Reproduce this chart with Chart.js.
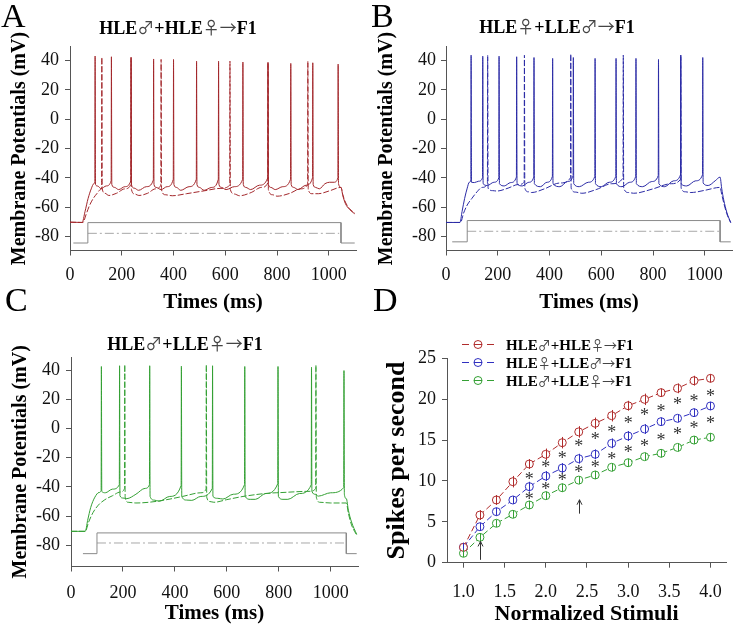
<!DOCTYPE html>
<html>
<head>
<meta charset="utf-8">
<script src="https://cdn.jsdelivr.net/npm/chart.js@4.4.0/dist/chart.umd.min.js"></script>
<style>
  html, body { margin: 0; padding: 0; background: #fff; }
  #wrap { position: relative; width: 736px; height: 629px; overflow: hidden; background: #fff; }
  canvas { position: absolute; }
</style>
</head>
<body>
<div id="wrap">
  <canvas id="chartA" width="368" height="320" style="left:0;top:0"></canvas>
  <canvas id="chartB" width="368" height="320" style="left:368px;top:0"></canvas>
  <canvas id="chartC" width="368" height="349" style="left:0;top:280px"></canvas>
  <canvas id="chartD" width="368" height="349" style="left:368px;top:280px"></canvas>
</div>
<script>
const SERIF = "'Liberation Serif', 'Times New Roman', serif";
const SYMBOL = "'Noto Sans CJK JP', 'DejaVu Sans', sans-serif";

// tick values
const msTicks = [0, 200, 400, 600, 800, 1000];
const mvTicks = [-80, -60, -40, -20, 0, 20, 40];
const stimTicks = [1.0, 1.5, 2.0, 2.5, 3.0, 3.5, 4.0];
const rateTicks = [0, 5, 10, 15, 20, 25];

// panel A: [ms, mV]
const traceASolid = [[0,-70.2],[47,-70.4],[58,-63],[70,-54],[82,-47.5],[92,-44],[96,-42.5],[97,43],[98.5,-44.5],[107,-45.6],[120,-47.4],[140,-45.5],[159,-42],[160,42.5],[161.5,-44.5],[172,-46.5],[188,-48],[212,-46],[235,-42],[236,42],[237.5,-44.5],[248,-47],[265,-48.5],[295,-46],[322,-41.5],[323,41],[324.5,-44.5],[333,-46.5],[352,-48],[375,-46],[399,-41],[400,40.7],[401.5,-44.5],[411,-46.5],[428,-48.5],[460,-46],[488,-41],[489,39.5],[490.5,-44.5],[500,-46.5],[518,-48.5],[548,-46.5],[573,-41],[574,39.5],[575.5,-44.5],[585,-46.5],[603,-48],[635,-46],[667,-41],[668,38.9],[669.5,-44.5],[679,-46.5],[698,-48],[732,-45],[764,-40],[765,38.6],[766.5,-44.5],[776,-46.5],[793,-48],[822,-46],[852,-41],[853,38],[854.5,-44.5],[864,-46.5],[881,-48],[912,-45],[937,-40],[938,38.4],[939.5,-44.5],[949,-46.5],[963,-47.5],[985,-44],[1003,-43],[1020,-43],[1035,-40],[1036,37.5],[1037.5,-44],[1047,-46.5],[1054,-52],[1064,-57.5],[1080,-61.5],[1100,-64.5]];
const traceADashed = [[0,-70.2],[50,-70.4],[62,-65],[75,-59],[90,-54],[105,-50.5],[118,-48],[122,-46.5],[123,42],[124.5,-47.5],[135,-50.5],[150,-52],[180,-50.5],[212,-47.5],[235,-44.5],[236,42],[237.5,-48],[250,-51],[266,-52],[300,-50.5],[330,-47.5],[351,-45],[352,40.7],[353.5,-48],[368,-51.5],[395,-52.2],[450,-50.8],[520,-48.8],[580,-47.2],[617,-45],[618,39.5],[619.5,-48],[635,-51],[655,-52.2],[700,-50],[740,-46.5],[764,-43.5],[765,38.6],[766.5,-48],[782,-51.5],[800,-52.5],[850,-50.5],[890,-47.5],[918,-44.5],[919,39.5],[920.5,-48],[935,-50.8],[960,-50.8],[1000,-49],[1047,-46.5],[1054,-51.5],[1064,-56.5],[1080,-61],[1100,-64]];
const stimA = [[13,-84.4],[69,-84.4],[69,-70.5],[1047,-70.5],[1047,-84.4],[1100,-84.4]];
const stimADash = [[69,-77.8],[1040,-77.8]];

// panel B
const traceBSolid = [[0,-70.4],[54,-70.4],[62,-63],[72,-54],[82,-47],[90,-43],[96,-41.5],[97,43.6],[98.5,-43],[110,-43.2],[126,-42.3],[141,-40],[142,42.9],[143.5,-44],[160,-45.2],[185,-43],[204,-40],[205,42.9],[206.5,-44],[225,-45.5],[250,-43.2],[272,-39.5],[273,42.5],[274.5,-44],[295,-45.5],[320,-43],[339,-39.5],[340,42],[341.5,-44],[365,-46],[390,-43],[411,-39],[412,41.4],[413.5,-44],[440,-46],[470,-42.5],[491,-38.5],[492,42],[493.5,-44],[515,-46],[550,-43],[575,-39],[576,41.4],[577.5,-44],[600,-46],[630,-43],[656,-39],[657,41.4],[658.5,-44],[680,-46],[710,-43],[733,-39],[734,41.4],[735.5,-44],[760,-46],[795,-42.5],[820,-38.5],[821,40.7],[822.5,-44],[845,-46],[880,-42],[906,-38],[907,43.6],[908.5,-44],[930,-45.5],[965,-42],[991,-38],[992,42],[993.5,-43.5],[1013,-45.2],[1040,-42],[1059,-39.5],[1065,-47],[1073,-55],[1085,-63.5],[1100,-70.5]];
const traceBDashed = [[0,-70.4],[56,-70.4],[68,-64],[82,-58.5],[100,-54],[120,-49.5],[140,-46.5],[160,-44],[161,43.6],[162.5,-47],[180,-48.7],[196,-49],[240,-47],[280,-44.5],[302,-43],[303,43.6],[304.5,-47],[318,-49.5],[331,-50],[380,-47.5],[440,-43.5],[481,-40],[482,44.3],[483.5,-47],[500,-49.7],[525,-50.5],[580,-48],[640,-44],[684,-40],[685,43.6],[686.5,-47],[705,-50],[725,-50.5],[800,-47.5],[870,-44],[906,-41],[907,43.6],[908.5,-47],[925,-49.5],[946,-50],[1000,-48.5],[1059,-46.5],[1065,-51],[1073,-57],[1085,-64.5],[1100,-70.5]];
const stimB = [[24,-83.6],[82,-83.6],[82,-69.1],[1059,-69.1],[1059,-83.6],[1100,-83.6]];
const stimBDash = [[82,-76.4],[1055,-76.4]];

// panel C
const traceCSolid = [[0,-70.4],[55,-70.4],[64,-63],[76,-54],[92,-47],[108,-43.8],[116,-42.5],[117,42.5],[118.5,-43],[132,-44],[160,-41.5],[186,-38.5],[187,43],[188.5,-46],[200,-47.6],[215,-48],[250,-45],[285,-41],[302,-38.5],[303,43],[304.5,-46.5],[320,-49],[340,-49.8],[380,-46.5],[424,-39],[425,42.7],[426.5,-46.5],[445,-49],[465,-49.2],[500,-46.5],[544,-41],[545,43],[546.5,-46.5],[565,-47.8],[585,-48.3],[625,-45],[668,-38.5],[669,42.5],[670.5,-46.5],[690,-48.5],[710,-48.5],[750,-44.5],[796,-37.8],[797,42.5],[798.5,-46.5],[816,-48.5],[835,-48.5],[880,-44.5],[925,-38.5],[926,42],[927.5,-43],[940,-45],[952,-46.3],[1000,-44],[1050,-40.5],[1051,39.7],[1052.5,-45],[1060,-48],[1068,-56],[1080,-64],[1100,-72.5]];
const traceCDashed = [[0,-70.4],[55,-70.4],[68,-64],[85,-57.5],[105,-52.5],[130,-48.8],[160,-46],[190,-43.5],[206,-41],[207,43.6],[208.5,-47],[220,-50.5],[250,-51],[300,-50.5],[360,-49],[430,-46.5],[500,-44],[520,-41.5],[521,43.6],[522.5,-47],[535,-50],[550,-50.5],[600,-48.7],[670,-46.3],[790,-44],[920,-43],[942,-41],[943,43.4],[944.5,-47],[958,-50.5],[1000,-51],[1060,-51],[1068,-58],[1080,-66],[1100,-73]];
const stimC = [[46,-85.7],[100,-85.7],[100,-71.5],[1060,-71.5],[1060,-85.7],[1100,-85.7]];
const stimCDash = [[100,-78.4],[1058,-78.4]];

// panel D
const seriesNames = ["HLE♂+HLE♀→F1", "HLE♀+LLE♂→F1", "HLE♂+LLE♀→F1"];
const stimuli = [1.0, 1.2, 1.4, 1.6, 1.8, 2.0, 2.2, 2.4, 2.6, 2.8, 3.0, 3.2, 3.4, 3.6, 3.8, 4.0];
const redMean = [1.88, 5.83, 7.67, 9.91, 12.07, 13.26, 14.68, 16.0, 17.05, 17.98, 19.2, 19.98, 20.8, 21.33, 22.26, 22.55];
const blueMean = [1.9, 4.4, 6.24, 7.67, 9.3, 10.6, 11.58, 12.72, 13.26, 14.6, 15.5, 16.35, 17.25, 17.66, 18.35, 19.17];
const greenMean = [1.15, 3.1, 4.82, 5.92, 7.06, 8.2, 9.17, 10.1, 10.73, 11.67, 12.23, 12.97, 13.38, 14.1, 15.0, 15.34];
const redErr = [0.5, 0.6, 0.6, 0.7, 0.6, 0.7, 0.7, 0.7, 0.7, 0.7, 0.6, 0.7, 0.5, 0.6, 0.6, 0.5];
const blueErr = [0.5, 0.5, 0.5, 0.5, 0.6, 0.6, 0.6, 0.6, 0.6, 0.6, 0.6, 0.6, 0.5, 0.5, 0.5, 0.5];
const greenErr = [0.45, 0.5, 0.45, 0.45, 0.5, 0.5, 0.5, 0.5, 0.5, 0.5, 0.5, 0.5, 0.5, 0.5, 0.5, 0.5];
const starX = [1.8, 1.8, 2.0, 2.0, 2.2, 2.2, 2.4, 2.4, 2.6, 2.6, 2.8, 2.8, 3.0, 3.0, 3.2, 3.2, 3.4, 3.4, 3.6, 3.6, 3.8, 3.8, 4.0, 4.0];
const starY = [10.6, 8.07, 11.95, 9.3, 13.17, 10.4, 14.52, 11.34, 15.4, 11.95, 16.3, 13.05, 17.45, 13.87, 18.35, 14.6, 18.88, 15.34, 19.7, 16.0, 20.1, 16.72, 20.72, 17.37];
const arrowX = [1.2, 2.4];
const arrowTip = [2.6, 7.7];
const arrowTail = [0.35, 6.0];

const toXY = arr => arr.map(p => ({ x: p[0], y: p[1] }));

// draws text where ♂ ♀ → come from a wider symbol font
function drawMixed(ctx, text, x, y, size, symSize, align) {
  const runs = [];
  for (const ch of text) {
    const sym = "♂♀→".includes(ch);
    const last = runs[runs.length - 1];
    if (last && last.sym === sym) last.t += ch;
    else runs.push({ t: ch, sym });
  }
  const fontOf = r => r.sym ? symSize + "px " + SYMBOL : "bold " + size + "px " + SERIF;
  let total = 0;
  runs.forEach(r => { ctx.font = fontOf(r); r.w = ctx.measureText(r.t).width; total += r.w; });
  let cx = align === "center" ? x - total / 2 : x;
  ctx.textAlign = "left";
  ctx.textBaseline = "alphabetic";
  runs.forEach(r => {
    ctx.font = fontOf(r);
    ctx.fillStyle = r.sym ? "#444" : "#000";
    ctx.fillText(r.t, cx, y);
    cx += r.w;
  });
}

const panelText = {
  id: "panelText",
  afterDraw(chart, args, opts) {
    const ctx = chart.ctx;
    ctx.save();
    ctx.fillStyle = "#000";
    ctx.font = "34px " + SERIF;
    ctx.textAlign = "left";
    ctx.textBaseline = "alphabetic";
    ctx.fillText(opts.letter, opts.letterX, opts.letterY);
    if (opts.title) drawMixed(ctx, opts.title, opts.titleX, opts.titleY + 6.5, 18, 17, "center");
    ctx.restore();
  }
};

function axisStyle() {
  return {
    grid: { drawOnChartArea: false, drawTicks: true, tickLength: 5, color: "#555" },
    border: { color: "#555", width: 1 }
  };
}

function tracePanel(id, cfg) {
  return new Chart(document.getElementById(id), {
    type: "line",
    data: {
      datasets: [
        { data: toXY(cfg.stim), borderColor: "#8a8a8a", borderWidth: 1, pointRadius: 0 },
        { data: toXY(cfg.stimDash), borderColor: "#a8a8a8", borderWidth: 1, borderDash: [9, 3, 2, 3], pointRadius: 0 },
        { data: toXY(cfg.dashed), borderColor: cfg.color, borderWidth: 1, borderDash: [6, 2], pointRadius: 0, cubicInterpolationMode: "monotone" },
        { data: toXY(cfg.solid), borderColor: cfg.color, borderWidth: 1, pointRadius: 0, cubicInterpolationMode: "monotone" }
      ]
    },
    options: {
      responsive: false,
      animation: false,
      events: [],
      layout: { padding: { top: cfg.top, right: cfg.right, left: 0, bottom: 0 } },
      plugins: {
        legend: { display: false },
        tooltip: { enabled: false },
        panelText: cfg.text
      },
      scales: {
        x: {
          type: "linear", min: 0, max: 1105,
          ...axisStyle(),
          afterBuildTicks: s => { s.ticks = msTicks.map(v => ({ value: v })); },
          afterFit: s => { s.height = cfg.xh; },
          ticks: { color: "#111", padding: cfg.xtp, font: { family: SERIF, size: 18 }, callback: v => String(v), maxRotation: 0 },
          title: { display: true, text: "Times (ms)", color: "#000", font: { family: SERIF, size: 21, weight: "bold" }, padding: { top: 0, bottom: cfg.xtb } }
        },
        y: {
          type: "linear", min: cfg.ymin, max: cfg.ymax,
          ...axisStyle(),
          afterBuildTicks: s => { s.ticks = mvTicks.map(v => ({ value: v })); },
          afterFit: s => { s.width = cfg.yw; },
          ticks: { color: "#111", padding: cfg.ytp, font: { family: SERIF, size: 18 }, callback: v => String(v) },
          title: { display: true, text: "Membrane Potentials (mV)", color: "#000", font: { family: SERIF, size: 20, weight: "bold" }, padding: { top: cfg.ytt, bottom: 0 } }
        }
      }
    },
    plugins: [panelText]
  });
}

tracePanel("chartA", {
  solid: traceASolid, dashed: traceADashed, stim: stimA, stimDash: stimADash, color: "#a3282c",
  top: 46.5, right: 12, xh: 69.5, yw: 70, ymin: -89.5, ymax: 49.5, xtp: 9, xtb: 5, ytp: 6, ytt: 8,
  text: { letter: "A", letterX: 1, letterY: 27, title: "HLE♂+HLE♀→F1", titleX: 178, titleY: 27.5 }
});
tracePanel("chartB", {
  solid: traceBSolid, dashed: traceBDashed, stim: stimB, stimDash: stimBDash, color: "#2c2ca6",
  top: 46.5, right: 4, xh: 69.5, yw: 78, ymin: -89.5, ymax: 49.5, xtp: 9, xtb: 5, ytp: 5, ytt: 7,
  text: { letter: "B", letterX: 3, letterY: 27, title: "HLE♀+LLE♂→F1", titleX: 189, titleY: 26 }
});
tracePanel("chartC", {
  solid: traceCSolid, dashed: traceCDashed, stim: stimC, stimDash: stimCDash, color: "#34a034",
  top: 77, right: 10, xh: 62.5, yw: 71, ymin: -94.5, ymax: 49, xtp: 11, xtb: 3, ytp: 6, ytt: 9,
  text: { letter: "C", letterX: 5, letterY: 31, title: "HLE♂+LLE♀→F1", titleX: 185, titleY: 63 }
});

const seriesColors = ["#b02c2c", "#3030c0", "#34a034"];

const errorBars = {
  id: "errorBars",
  afterDatasetsDraw(chart) {
    const { ctx, scales: { x, y } } = chart;
    ctx.save();
    ctx.lineWidth = 1;
    chart.data.datasets.forEach(ds => {
      ctx.strokeStyle = ds.borderColor;
      ds.data.forEach((p, i) => {
        const px = Math.round(x.getPixelForValue(p.x)) + 0.5;
        ctx.beginPath();
        ctx.moveTo(px, y.getPixelForValue(p.y - ds.errors[i]));
        ctx.lineTo(px, y.getPixelForValue(p.y + ds.errors[i]));
        ctx.stroke();
      });
    });
    // asterisks
    ctx.fillStyle = "#333";
    ctx.font = "18px " + SERIF;
    ctx.textAlign = "center";
    ctx.textBaseline = "alphabetic";
    starX.forEach((sx, i) => {
      ctx.fillText("*", x.getPixelForValue(sx), y.getPixelForValue(starY[i]) + 8.5);
    });
    // arrows
    ctx.strokeStyle = "#333";
    arrowX.forEach((ax, i) => {
      const px = Math.round(x.getPixelForValue(ax)) + 0.5;
      const top = y.getPixelForValue(arrowTip[i]);
      const bot = y.getPixelForValue(arrowTail[i]);
      ctx.beginPath();
      ctx.moveTo(px, bot); ctx.lineTo(px, top);
      ctx.moveTo(px - 2.5, top + 5); ctx.lineTo(px, top); ctx.lineTo(px + 2.5, top + 5);
      ctx.stroke();
    });
    ctx.restore();
  }
};

const dLegend = {
  id: "dLegend",
  afterDraw(chart) {
    const ctx = chart.ctx;
    ctx.save();
    seriesNames.forEach((name, i) => {
      const y = 64.5 + i * 18;
      ctx.strokeStyle = seriesColors[i];
      ctx.lineWidth = 1;
      ctx.beginPath();
      ctx.moveTo(94, y); ctx.lineTo(101, y);
      ctx.moveTo(106, y); ctx.lineTo(114, y);
      ctx.moveTo(119, y); ctx.lineTo(126, y);
      ctx.stroke();
      ctx.beginPath();
      ctx.arc(110, y, 4, 0, Math.PI * 2);
      ctx.stroke();
      drawMixed(ctx, name, 138, y + 5.5, 15, 13, "left");
    });
    ctx.restore();
  }
};

function rateSeries(values, errors, color) {
  return {
    data: stimuli.map((s, i) => ({ x: s, y: values[i] })),
    errors: errors,
    borderColor: color,
    borderWidth: 1,
    borderDash: [6, 3],
    pointRadius: 4,
    pointBorderWidth: 1,
    pointBorderColor: color,
    pointBackgroundColor: "#fff"
  };
}

new Chart(document.getElementById("chartD"), {
  type: "line",
  data: {
    datasets: [
      rateSeries(redMean, redErr, seriesColors[0]),
      rateSeries(blueMean, blueErr, seriesColors[1]),
      rateSeries(greenMean, greenErr, seriesColors[2])
    ]
  },
  options: {
    responsive: false,
    animation: false,
    events: [],
    layout: { padding: { top: 78.3, right: 4.3, left: 0, bottom: 0 } },
    plugins: {
      legend: { display: false },
      tooltip: { enabled: false },
      panelText: { letter: "D", letterX: 5, letterY: 31 }
    },
    scales: {
      x: {
        type: "linear", min: 0.8, max: 4.19,
        ...axisStyle(),
        afterBuildTicks: s => { s.ticks = stimTicks.map(v => ({ value: v })); },
        afterFit: s => { s.height = 66.3; },
        ticks: { color: "#111", padding: 14, font: { family: SERIF, size: 18 }, callback: v => v.toFixed(1), maxRotation: 0 },
        title: { display: true, text: "Normalized Stimuli", color: "#000", font: { family: SERIF, size: 22, weight: "bold" }, padding: { top: 0, bottom: 1 } }
      },
      y: {
        type: "linear", min: 0, max: 25,
        ...axisStyle(),
        afterBuildTicks: s => { s.ticks = rateTicks.map(v => ({ value: v })); },
        afterFit: s => { s.width = 79; },
        ticks: { color: "#111", padding: 6, font: { family: SERIF, size: 18 }, callback: v => String(v) },
        title: { display: true, text: "Spikes per second", color: "#000", font: { family: SERIF, size: 26, weight: "bold" }, padding: { top: 14, bottom: 0 } }
      }
    }
  },
  plugins: [errorBars, dLegend, panelText]
});
</script>
</body>
</html>
